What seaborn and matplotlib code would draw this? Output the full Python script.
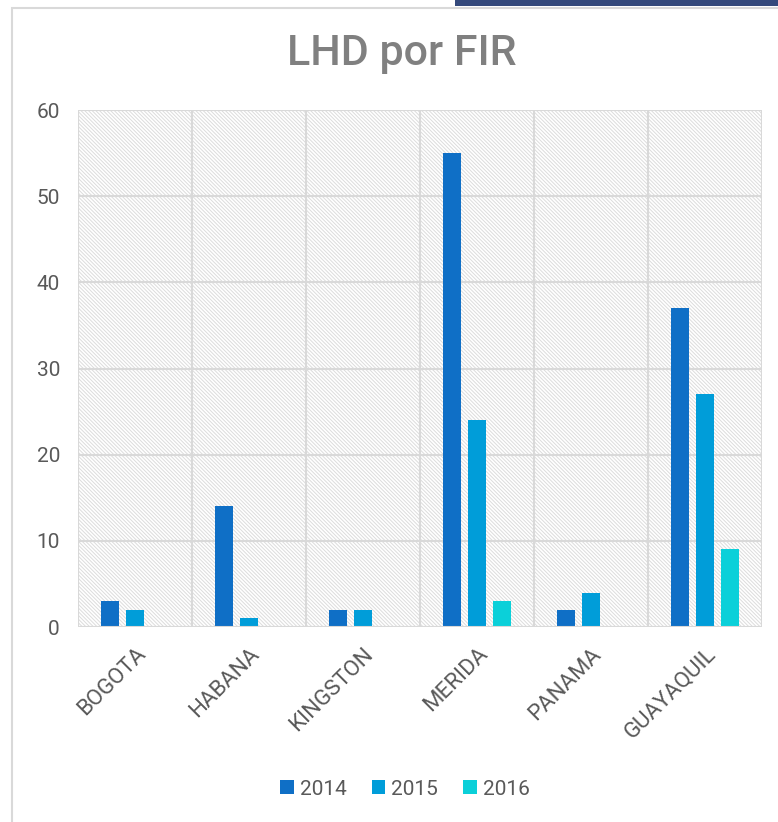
import matplotlib
matplotlib.use("Agg")
import matplotlib.pyplot as plt
import matplotlib.patches as mpatches
import seaborn as sns
import pandas as pd

# data
firs = ["BOGOTA", "HABANA", "KINGSTON", "MERIDA", "PANAMA", "GUAYAQUIL"]
years = ["2014", "2015", "2016"]
v2014 = [3, 14, 2, 55, 2, 37]
v2015 = [2, 1, 2, 24, 4, 27]
v2016 = [0, 0, 0, 3, 0, 9]
colors = ["#0F6FC6", "#009DD9", "#0BD0D9"]

df = pd.DataFrame({
    "fir": firs * 3,
    "year": [years[0]] * 6 + [years[1]] * 6 + [years[2]] * 6,
    "value": v2014 + v2015 + v2016,
})

sns.set_style("white")
plt.rcParams["font.family"] = ["Roboto", "DejaVu Sans"]
plt.rcParams["hatch.linewidth"] = 0.7

fig = plt.figure(figsize=(7.78, 8.22), dpi=100)
W, H = 778, 822

# outer chart border and the dark strip at the top right
fig.patches.append(mpatches.Rectangle((12 / W, -0.1), 1.2, 1 - 8 / H + 0.1,
                                      transform=fig.transFigure, fill=False,
                                      edgecolor="#d9d9d9", lw=1.5))
fig.patches.append(mpatches.Rectangle((455 / W, 1 - 6 / H), 1, 6 / H,
                                      transform=fig.transFigure,
                                      facecolor="#34497c", edgecolor="none"))

ax = fig.add_axes([78 / W, 1 - 627 / H, (762 - 78) / W, (627 - 110) / H])

# hatched plot background
ax.add_patch(mpatches.Rectangle((0, 0), 1, 1, transform=ax.transAxes,
                                facecolor="white", edgecolor="#dcdcdc",
                                hatch="\\" * 9, lw=0, zorder=0))

sns.barplot(data=df, x="fir", y="value", hue="year", palette=colors,
            width=0.66, gap=0.28, linewidth=0, saturation=1, ax=ax, zorder=3)

ax.set_ylim(0, 60)
ax.set_yticks(range(0, 61, 10))
ax.set_xlim(-0.5, len(firs) - 0.5)
for y in range(10, 61, 10):
    ax.axhline(y, color="#d9d9d9", lw=1.5, zorder=1)
for x in range(len(firs) + 1):
    ax.axvline(x - 0.5, color="#d9d9d9", lw=1.5, zorder=1)
ax.axhline(0, color="#d9d9d9", lw=1.5, zorder=4)

for s in ax.spines.values():
    s.set_visible(False)

ax.set_xlabel("")
ax.set_ylabel("")
ax.tick_params(axis="x", length=0, labelsize=16, labelcolor="#595959", pad=12)
ax.tick_params(axis="y", length=0, labelsize=15, labelcolor="#595959", pad=13)
plt.setp(ax.get_xticklabels(), rotation=45, ha="right", rotation_mode="anchor")

fig.text(402 / W, 1 - 54 / H, "LHD por FIR", ha="center", va="center",
         fontsize=31, fontweight="medium", color="#808080")

ax.legend(loc="center", bbox_to_anchor=(405 / W, 1 - 789 / H),
          bbox_transform=fig.transFigure, ncol=3, frameon=False,
          fontsize=15, handlelength=0.65, handleheight=0.65,
          handletextpad=0.3, columnspacing=1.2, labelcolor="#595959")

fig.savefig("out.png", dpi=100)
